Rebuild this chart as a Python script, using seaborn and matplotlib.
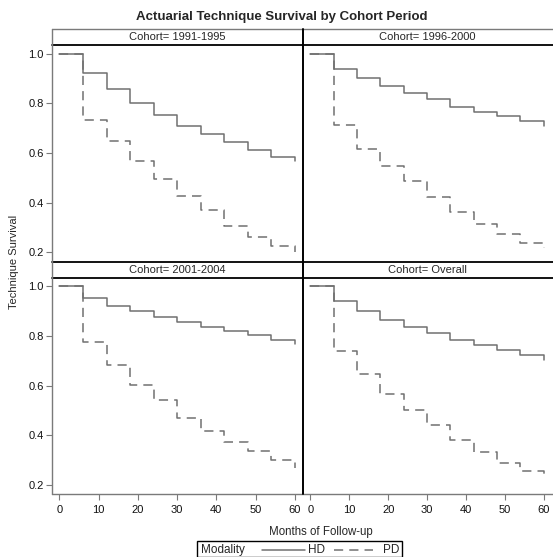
import numpy as np
import pandas as pd
import matplotlib.pyplot as plt
import seaborn as sns
from matplotlib.lines import Line2D
from matplotlib.patches import Rectangle

months = [0, 6, 12, 18, 24, 30, 36, 42, 48, 54, 60]
cohorts = ['1991-1995', '1996-2000', '2001-2004', 'Overall']

hd_1991 = [1.0, 0.921, 0.859, 0.802, 0.755, 0.710, 0.677, 0.643, 0.611, 0.585, 0.566]
pd_1991 = [1.0, 0.735, 0.647, 0.568, 0.496, 0.428, 0.370, 0.306, 0.259, 0.223, 0.200]
hd_1996 = [1.0, 0.941, 0.904, 0.869, 0.842, 0.817, 0.787, 0.766, 0.748, 0.729, 0.710]
pd_1996 = [1.0, 0.713, 0.618, 0.549, 0.485, 0.421, 0.363, 0.313, 0.273, 0.236, 0.216]
hd_2001 = [1.0, 0.950, 0.920, 0.898, 0.877, 0.856, 0.837, 0.819, 0.801, 0.782, 0.767]
pd_2001 = [1.0, 0.774, 0.684, 0.603, 0.542, 0.471, 0.419, 0.374, 0.335, 0.301, 0.268]
hd_all = [1.0, 0.941, 0.901, 0.865, 0.837, 0.810, 0.783, 0.761, 0.742, 0.722, 0.703]
pd_all = [1.0, 0.740, 0.647, 0.567, 0.501, 0.440, 0.382, 0.331, 0.290, 0.255, 0.228]

hd_curves = [hd_1991, hd_1996, hd_2001, hd_all]
pd_curves = [pd_1991, pd_1996, pd_2001, pd_all]

rows = []
for c, hd, pdv in zip(cohorts, hd_curves, pd_curves):
    for m, h, p in zip(months, hd, pdv):
        rows.append((c, m, 'HD', h))
        rows.append((c, m, 'PD', p))
df = pd.DataFrame(rows, columns=['Cohort', 'Month', 'Modality', 'Survival'])

sns.set_style('white')
plt.rcParams['font.family'] = ['Liberation Sans', 'DejaVu Sans']

W, H = 553, 557
fig = plt.figure(figsize=(W / 100, H / 100), dpi=100)

def fx(px):
    return px / W

def fy(py):
    return 1 - py / H

line_col = '#707070'
gray = '#7a7a7a'
dash = (6, 4)

# panel boxes in pixels: (x0, x1) and (header_top, header_bottom, plot_bottom)
cols = [(52, 303), (303, 552)]
rows_px = [(29, 45, 262), (262, 278, 494)]

for i, c in enumerate(cohorts):
    r, k = divmod(i, 2)
    x0, x1 = cols[k]
    ht, hb, pb = rows_px[r]
    ax = fig.add_axes([fx(x0), fy(pb), fx(x1) - fx(x0), fy(hb) - fy(pb)])
    sub = df[df['Cohort'] == c]
    sns.lineplot(data=sub, x='Month', y='Survival', style='Modality',
                 dashes={'HD': '', 'PD': dash}, color=line_col, lw=1.1,
                 drawstyle='steps-post', legend=False, ax=ax)
    ax.set_xlim(-1.9, 62.1)
    if r == 0:
        ax.set_ylim(0.16, 1.036)
    else:
        ax.set_ylim(0.164, 1.032)
    ax.set_xticks([0, 10, 20, 30, 40, 50, 60])
    ax.set_yticks([0.2, 0.4, 0.6, 0.8, 1.0])
    ax.set_xlabel('')
    ax.set_ylabel('')
    for s in ax.spines.values():
        s.set_visible(False)
    ax.tick_params(direction='out', length=4, width=0.8, color=gray,
                   labelsize=8, labelcolor='#111111')
    ax.tick_params(axis='x', pad=4)
    ax.tick_params(axis='y', pad=2)
    if k == 0:
        ax.yaxis.set_major_formatter(plt.FormatStrFormatter('%.1f'))
        ax.tick_params(axis='y', left=True)
    else:
        ax.tick_params(axis='y', left=False, labelleft=False)
    if r == 1:
        ax.tick_params(axis='x', bottom=True)
    else:
        ax.tick_params(axis='x', bottom=False, labelbottom=False)
    fig.text(fx((x0 + x1) / 2), fy((ht + hb) / 2), 'Cohort= ' + c,
             ha='center', va='center', fontsize=8)

# frame lines
def fline(xs, ys, color, lw, **kw):
    fig.add_artist(Line2D([fx(x) for x in xs], [fy(y) for y in ys],
                          color=color, lw=lw, **kw))

fline([52, 553], [29, 29], gray, 1.0)
fline([52, 553], [45, 45], 'black', 1.3)
fline([52, 553], [262, 262], 'black', 1.3)
fline([52, 553], [278, 278], 'black', 1.3)
fline([52, 52], [29, 494], gray, 1.0)
fline([52, 553], [494, 494], gray, 1.0)
fline([303, 303], [29, 494], 'black', 1.4)

fig.text(fx(282), fy(17), 'Actuarial Technique Survival by Cohort Period',
         ha='center', va='center', fontsize=9.5, fontweight='bold')
fig.text(fx(14), fy(262), 'Technique Survival', rotation=90,
         ha='center', va='center', fontsize=8)
fig.text(fx(321), fy(532), 'Months of Follow-up',
         ha='center', va='center', fontsize=8.3)

# legend box
fig.add_artist(Rectangle((fx(197), fy(557)), fx(402) - fx(197), fy(541) - fy(557),
                         transform=fig.transFigure, facecolor='white',
                         edgecolor='black', lw=1.0))
fig.text(fx(201), fy(550), 'Modality', ha='left', va='center', fontsize=8.5)
fline([262, 305], [550, 550], line_col, 1.1)
fig.text(fx(308), fy(550), 'HD', ha='left', va='center', fontsize=8.5)
fline([334, 373], [550, 550], line_col, 1.1, dashes=dash)
fig.text(fx(383), fy(550), 'PD', ha='left', va='center', fontsize=8.5)

fig.savefig('out.png', dpi=100)
